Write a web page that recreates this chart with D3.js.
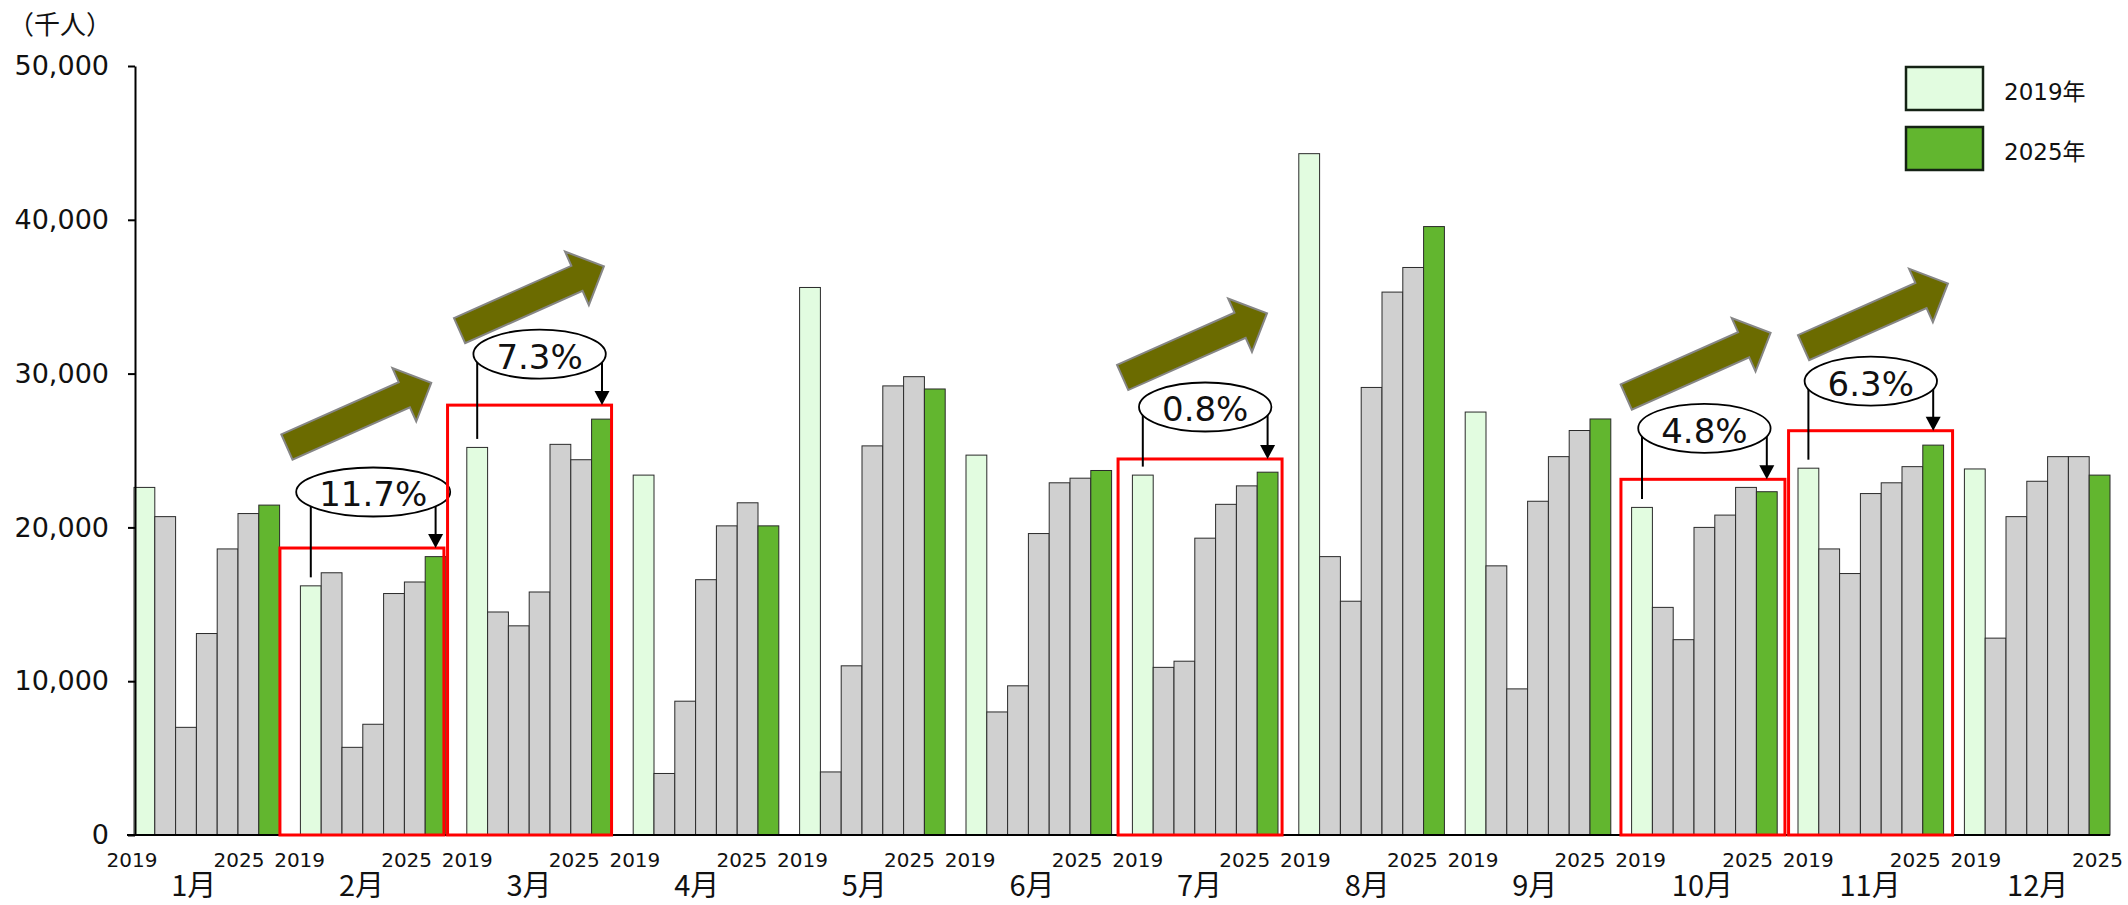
<!DOCTYPE html>
<html>
<head>
<meta charset="utf-8">
<script src="https://cdn.jsdelivr.net/npm/d3@7/dist/d3.min.js"></script>
<style>
  html, body { margin: 0; padding: 0; background: #fff; }
  svg { display: block; }
</style>
</head>
<body>
<svg id="chart" width="2128" height="905"></svg>
<script>
// Monthly visitors (thousand persons), 2019–2025
const months = ["1月", "2月", "3月", "4月", "5月", "6月", "7月", "8月", "9月", "10月", "11月", "12月"];
const years = ["2019", "2020", "2021", "2022", "2023", "2024", "2025"];

const v2019 = [22600, 16200, 25200, 23400, 35600, 24700, 23400, 44300, 27500, 21300, 23850, 23800];
const v2020 = [20700, 17050, 14500, 4000, 4100, 8000, 10900, 18100, 17500, 14800, 18600, 12800];
const v2021 = [7000, 5700, 13600, 8700, 11000, 9700, 11300, 15200, 9500, 12700, 17000, 20700];
const v2022 = [13100, 7200, 15800, 16600, 25300, 19600, 19300, 29100, 21700, 20000, 22200, 23000];
const v2023 = [18600, 15700, 25400, 20100, 29200, 22900, 21500, 35300, 24600, 20800, 22900, 24600];
const v2024 = [20900, 16450, 24400, 21600, 29800, 23200, 22700, 36900, 26300, 22600, 23950, 24600];
const v2025 = [21450, 18100, 27040, 20100, 29000, 23700, 23590, 39560, 27050, 22320, 25350, 23400];

const yTicks = [0, 10000, 20000, 30000, 40000, 50000];
const unitLabel = "（千人）";
const legendYears = ["2019", "2025"];
const legendSuffix = "年";

const valuesByYear = {
  "2019": v2019, "2020": v2020, "2021": v2021, "2022": v2022,
  "2023": v2023, "2024": v2024, "2025": v2025
};

// Callout layout for the highlighted months (growth from first to last year)
const callouts = [
  { month: "2月",  lift: 8.6,  ellDy: -56,   arrowDx: 7,   arrowDy: -101 },
  { month: "3月",  lift: 14,   ellDy: -51,   arrowDx: 12,  arrowDy: -74.5 },
  { month: "7月",  lift: 13.2, ellDy: -52,   arrowDx: 4.6, arrowDy: -81.5 },
  { month: "10月", lift: 12.4, ellDy: -51,   arrowDx: 5.3, arrowDy: -82.3 },
  { month: "11月", lift: 14.4, ellDy: -49.6, arrowDx: 15,  arrowDy: -83 }
];

const NUM_FONT = "'DejaVu Sans', Verdana, sans-serif";
const CJK_FONT = "'Noto Sans CJK JP', 'Noto Sans', sans-serif";
const MIX_FONT = "'DejaVu Sans', 'Noto Sans CJK JP', sans-serif";

const W = 2128;
const left = 134, right = 2110, base = 835, topY = 66;
const firstYear = years[0], lastYear = years[years.length - 1];

const svg = d3.select("#chart");

const x = d3.scaleBand().domain(months).range([left, right]).paddingInner(0.125).paddingOuter(0);
const xi = d3.scaleBand().domain(years).range([0, x.bandwidth()]);
const y = d3.scaleLinear().domain([0, 50000]).range([base, topY]);
// month labels and highlight frames sit on a slightly wider pitch
const lx = d3.scalePoint().domain(months)
  .range([x(months[0]) + x.bandwidth() / 2 - 13.5, x(months[months.length - 1]) + x.bandwidth() / 2]);

const color = yr => yr === firstYear ? "#E2FCE0" : (yr === lastYear ? "#62B62F" : "#D0D0D0");

const barCenter = (m, yr) => x(m) + xi(yr) + xi.bandwidth() / 2;
const val = (m, yr) => valuesByYear[yr][months.indexOf(m)];

// bars
const groups = svg.append("g").selectAll("g")
  .data(months).join("g")
  .attr("transform", m => `translate(${x(m)},0)`);

groups.selectAll("rect")
  .data(m => years.map(yr => ({ m, yr, v: val(m, yr) })))
  .join("rect")
  .attr("x", d => xi(d.yr))
  .attr("y", d => y(d.v))
  .attr("width", xi.bandwidth())
  .attr("height", d => base - y(d.v))
  .attr("fill", d => color(d.yr))
  .attr("stroke", "#2a2a2a")
  .attr("stroke-width", 1);

// y axis
const yAxis = svg.append("g")
  .attr("transform", `translate(${left + 1},0)`)
  .call(d3.axisLeft(y).tickValues(yTicks).tickFormat(d3.format(",")).tickSize(7).tickSizeOuter(0).tickPadding(19));
yAxis.select(".domain").attr("stroke", "#000").attr("stroke-width", 2);
yAxis.selectAll(".tick line").attr("stroke", "#000").attr("stroke-width", 2);
yAxis.selectAll(".tick text")
  .attr("font-family", NUM_FONT).attr("font-size", 27).attr("fill", "#111");

// baseline
svg.append("line")
  .attr("x1", left - 7).attr("x2", right)
  .attr("y1", base).attr("y2", base)
  .attr("stroke", "#000").attr("stroke-width", 2);

// unit label
svg.append("text")
  .attr("x", 8).attr("y", 34)
  .attr("font-family", CJK_FONT).attr("font-size", 26).attr("fill", "#111")
  .text(unitLabel);

// year labels under first and last bar of each month
const yearLabels = svg.append("g").attr("font-family", NUM_FONT).attr("font-size", 20).attr("fill", "#111");
months.forEach((m, i) => {
  yearLabels.append("text").attr("text-anchor", "middle")
    .attr("x", lx(m) - 61.3).attr("y", 867).text(firstYear);
  const isLast = i === months.length - 1;
  yearLabels.append("text")
    .attr("text-anchor", isLast ? "end" : "middle")
    .attr("x", isLast ? W - 5 : lx(m) + 45.7).attr("y", 867).text(lastYear);
});

// month labels
const mAxis = svg.append("g")
  .call(d3.axisBottom(lx).tickSize(0).tickPadding(0));
mAxis.select(".domain").remove();
mAxis.selectAll(".tick text")
  .attr("y", 896).attr("dy", null)
  .attr("font-family", CJK_FONT).attr("font-size", 29).attr("fill", "#111");

// highlight frames, growth callouts and trend arrows
const pctFmt = d3.format(".1f");
const annot = svg.append("g");

callouts.forEach(c => {
  const v0 = val(c.month, firstYear), v1 = val(c.month, lastYear);
  const boxTop = y(v1) - c.lift;
  const boxLeft = lx(c.month) - 81;
  const g = annot.append("g");

  g.append("rect")
    .attr("x", boxLeft).attr("y", boxTop)
    .attr("width", 164).attr("height", base - boxTop)
    .attr("fill", "none").attr("stroke", "#FF0000").attr("stroke-width", 3);

  const cx = x(c.month) + x.bandwidth() / 2;
  const cy = boxTop + c.ellDy;
  const xa = barCenter(c.month, firstYear);
  const xb = barCenter(c.month, lastYear);

  g.append("line")
    .attr("x1", xa).attr("x2", xa).attr("y1", y(v0) - 8.5).attr("y2", cy)
    .attr("stroke", "#000").attr("stroke-width", 2);
  g.append("line")
    .attr("x1", xb).attr("x2", xb).attr("y1", cy).attr("y2", boxTop - 12)
    .attr("stroke", "#000").attr("stroke-width", 2);
  g.append("path")
    .attr("d", `M${xb - 7.5},${boxTop - 14}L${xb + 7.5},${boxTop - 14}L${xb},${boxTop}Z`)
    .attr("fill", "#000");

  const ell = g.append("ellipse")
    .attr("cx", cx).attr("cy", cy).attr("ry", 24.5)
    .attr("fill", "#fff").attr("stroke", "#000").attr("stroke-width", 1.8);

  const label = g.append("text")
    .attr("x", cx).attr("y", cy + 14.4)
    .attr("text-anchor", "middle")
    .attr("font-family", NUM_FONT).attr("font-size", 34).attr("fill", "#111")
    .text(pctFmt((v1 / v0 - 1) * 100) + "%");
  ell.attr("rx", label.node().getComputedTextLength() / 2 + 23);

  // thick trend arrow
  const L = 158, sw = 13.75, hw = 29.3, hl = 29.5;
  const pts = [[0, -sw], [L - hl, -sw], [L - hl, -hw], [L, 0], [L - hl, hw], [L - hl, sw], [0, sw]];
  g.append("polygon")
    .attr("transform", `translate(${boxLeft + c.arrowDx},${boxTop + c.arrowDy}) rotate(-24)`)
    .attr("points", pts.map(p => p.join(",")).join(" "))
    .attr("fill", "#6B6B00").attr("stroke", "#868686").attr("stroke-width", 2)
    .attr("stroke-linejoin", "miter");
});

// legend
const legend = svg.append("g");
legendYears.forEach((yr, i) => {
  legend.append("rect")
    .attr("x", 1906).attr("y", 67 + i * 60)
    .attr("width", 77).attr("height", 43)
    .attr("fill", color(yr)).attr("stroke", "#142214").attr("stroke-width", 2.5);
  legend.append("text")
    .attr("x", 2004).attr("y", 100 + i * 60)
    .attr("font-family", MIX_FONT).attr("font-size", 23).attr("fill", "#111")
    .text(yr + legendSuffix);
});
</script>
</body>
</html>
